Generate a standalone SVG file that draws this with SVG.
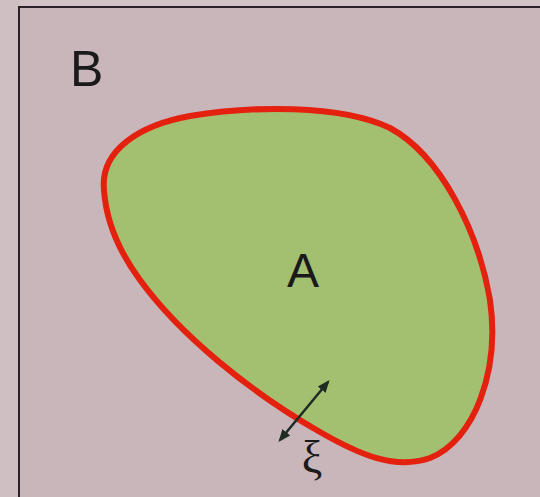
<svg xmlns="http://www.w3.org/2000/svg" width="540" height="497" viewBox="0 0 540 497">
<defs>
<style>
.lbl{font-family:"Liberation Sans",Arial,sans-serif;fill:#1a1a1a}
</style>
<marker id="ah" viewBox="0 0 10 10" refX="8" refY="5" markerWidth="5" markerHeight="5" orient="auto-start-reverse">
<path d="M0,1 L10,5 L0,9 z" fill="#1e2a22"/>
</marker>
</defs>
<rect x="0" y="0" width="540" height="497" fill="#c9b6bb"/>
<rect x="0" y="0" width="540" height="7" fill="#d3c3c7"/>
<rect x="0" y="0" width="19" height="497" fill="#cfbfc3"/>
<path d="M19,497 L19,7 L540,7" fill="none" stroke="#2a2226" stroke-width="2"/>
<g id="B">
<text class="lbl" x="70" y="86" font-size="50">B</text>
</g>
<g id="A">
<path d="M104,190 C100,150 140,125 190,116 C250,106 340,104 390,128 C440,155 478,230 490,300 C500,370 475,440 430,458 C395,470 360,455 320,432 C250,392 180,335 140,280 C118,250 106,220 104,190 Z" fill="#a3c071" stroke="#e4200f" stroke-width="6" stroke-linejoin="round"/>
<text class="lbl" x="303" y="287" font-size="48" text-anchor="middle">A</text>
</g>
<g id="connectors">
<line x1="280" y1="440" x2="328" y2="382" stroke="#1e2a22" stroke-width="2.5" marker-start="url(#ah)" marker-end="url(#ah)"/>
</g>
<g id="xi">
<text x="312" y="473" font-size="46" text-anchor="middle" font-family="'Liberation Serif',serif" fill="#1a1a1a">ξ</text>
</g>
</svg>
